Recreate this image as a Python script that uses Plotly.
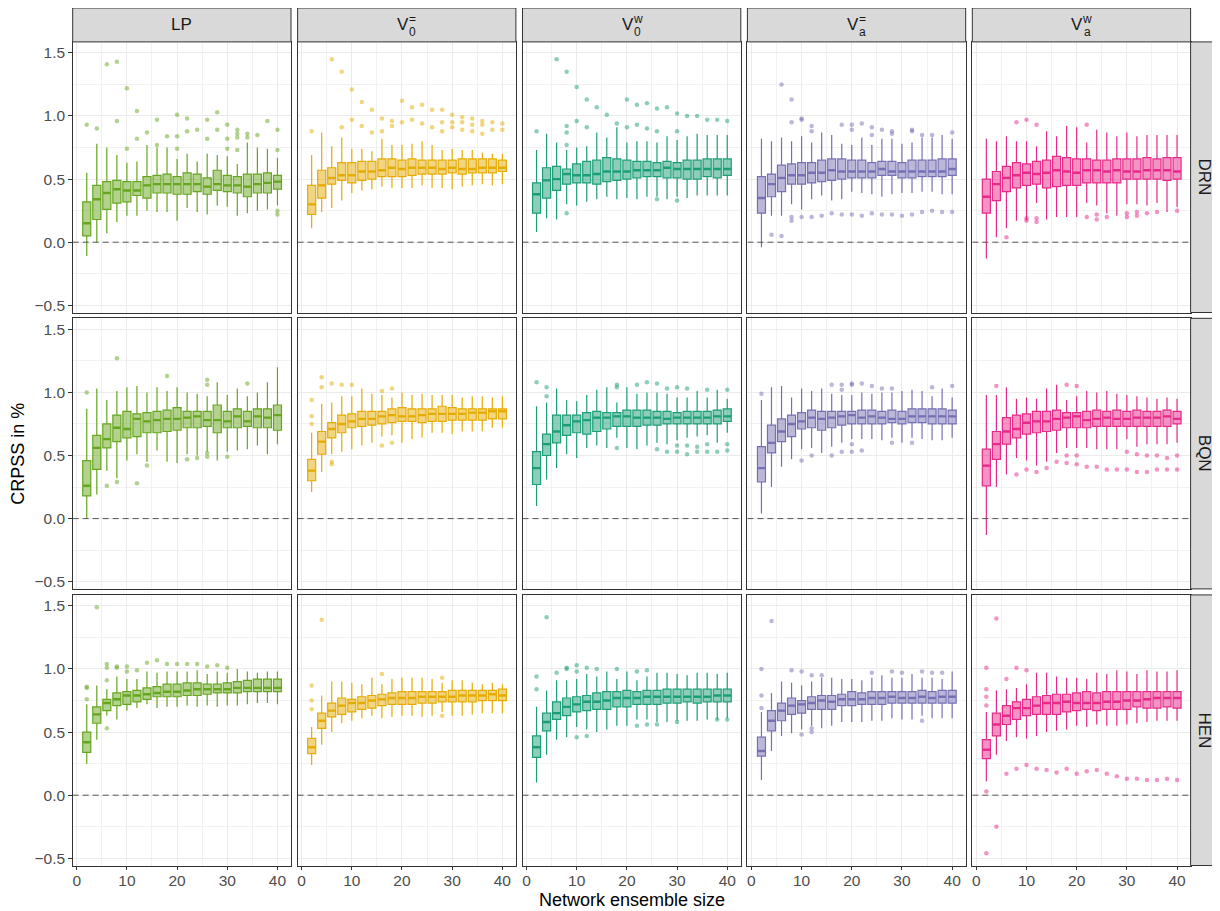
import plotly.graph_objects as go

# ---------------- data ----------------
SIZES = [2, 4, 6, 8, 10, 12, 14, 16, 18, 20, 22, 24, 26, 28, 30, 32, 34, 36, 38, 40]
ROW_NAMES = ["DRN", "BQN", "HEN"]
COL_KEYS = ["LP", "V0eq", "V0w", "Vaeq", "Vaw"]
STRIP_LABELS = [("LP", None, None), ("V", "0", "="), ("V", "0", "w"), ("V", "a", "="), ("V", "a", "w")]
COLORS = ["#66A61E", "#E6AB02", "#1B9E77", "#7570B3", "#E7298A"]
X_TICKS = [0, 10, 20, 30, 40]
Y_TICKS = [-0.5, 0.0, 0.5, 1.0, 1.5]
Y_TICKTEXT = ["\u22120.5", "0.0", "0.5", "1.0", "1.5"]
REF_LINE = 0.0

# ---- DRN ----
DRN_LP_lo = [-0.11, 0.00, 0.07, 0.16, 0.21, 0.21, 0.25, 0.24, 0.24, 0.17, 0.27, 0.24, 0.22, 0.29, 0.28, 0.21, 0.23, 0.25, 0.26, 0.29]
DRN_LP_q1 = [0.05, 0.18, 0.26, 0.31, 0.32, 0.37, 0.35, 0.39, 0.39, 0.38, 0.38, 0.40, 0.38, 0.41, 0.40, 0.39, 0.36, 0.39, 0.39, 0.42]
DRN_LP_med = [0.15, 0.34, 0.39, 0.42, 0.41, 0.41, 0.45, 0.46, 0.46, 0.46, 0.46, 0.46, 0.44, 0.46, 0.45, 0.45, 0.44, 0.46, 0.47, 0.48]
DRN_LP_q3 = [0.32, 0.45, 0.48, 0.49, 0.48, 0.48, 0.52, 0.53, 0.54, 0.52, 0.55, 0.54, 0.51, 0.57, 0.53, 0.52, 0.54, 0.54, 0.55, 0.53]
DRN_LP_hi = [0.55, 0.78, 0.75, 0.69, 0.63, 0.64, 0.77, 0.75, 0.75, 0.66, 0.70, 0.64, 0.70, 0.69, 0.68, 0.62, 0.79, 0.75, 0.74, 0.67]
DRN_LP_out = [(2, 0.93), (4, 0.90), (6, 1.41), (8, 1.43), (8, 0.96), (10, 1.22), (10, 0.74), (12, 1.04), (12, 0.82),
              (14, 0.87), (16, 0.97), (16, 0.77), (18, 0.84), (20, 1.01), (20, 0.84), (20, 0.74), (22, 0.98), (22, 0.88),
              (24, 0.89), (26, 0.97), (26, 0.82), (28, 1.03), (28, 0.89), (30, 0.93), (30, 0.82), (30, 0.74), (32, 0.89),
              (32, 0.86), (32, 0.83), (32, 0.73), (34, 0.86), (34, 0.83), (36, 0.85), (38, 0.96), (40, 0.89), (40, 0.73),
              (40, 0.25), (40, 0.22)]

DRN_V0eq_lo = [0.11, 0.24, 0.27, 0.33, 0.39, 0.41, 0.42, 0.44, 0.43, 0.43, 0.43, 0.45, 0.43, 0.43, 0.42, 0.44, 0.45, 0.46, 0.45, 0.46]
DRN_V0eq_q1 = [0.22, 0.35, 0.46, 0.49, 0.47, 0.49, 0.50, 0.52, 0.52, 0.52, 0.53, 0.54, 0.54, 0.54, 0.55, 0.54, 0.55, 0.55, 0.55, 0.56]
DRN_V0eq_med = [0.30, 0.45, 0.51, 0.53, 0.53, 0.56, 0.56, 0.57, 0.59, 0.58, 0.59, 0.59, 0.59, 0.58, 0.59, 0.58, 0.58, 0.59, 0.59, 0.59]
DRN_V0eq_q3 = [0.45, 0.57, 0.59, 0.63, 0.63, 0.64, 0.64, 0.66, 0.66, 0.65, 0.66, 0.65, 0.65, 0.65, 0.65, 0.66, 0.66, 0.66, 0.66, 0.65]
DRN_V0eq_hi = [0.69, 0.87, 0.76, 0.83, 0.74, 0.74, 0.72, 0.82, 0.77, 0.77, 0.78, 0.80, 0.77, 0.73, 0.74, 0.73, 0.73, 0.71, 0.70, 0.70]
DRN_V0eq_out = [(2, 0.88), (6, 1.45), (8, 1.35), (8, 0.91), (10, 1.21), (10, 0.97), (12, 1.11), (12, 0.92), (14, 1.05),
                (14, 0.87), (16, 0.98), (16, 0.88), (18, 0.96), (18, 0.92), (20, 1.12), (20, 0.95), (22, 1.07), (22, 0.97),
                (24, 1.09), (24, 0.94), (26, 1.05), (26, 0.91), (28, 1.05), (28, 0.95), (28, 0.88), (30, 1.01), (30, 0.95),
                (30, 0.91), (32, 0.99), (32, 0.95), (32, 0.89), (34, 0.98), (34, 0.93), (34, 0.88), (36, 0.96), (36, 0.93),
                (36, 0.86), (38, 0.95), (38, 0.89), (40, 0.94), (40, 0.89)]

DRN_V0w_lo = [0.08, 0.19, 0.18, 0.30, 0.29, 0.32, 0.34, 0.36, 0.34, 0.35, 0.34, 0.36, 0.36, 0.34, 0.36, 0.35, 0.37, 0.37, 0.37, 0.37]
DRN_V0w_q1 = [0.23, 0.35, 0.41, 0.46, 0.47, 0.47, 0.46, 0.48, 0.49, 0.50, 0.51, 0.52, 0.52, 0.51, 0.51, 0.50, 0.50, 0.52, 0.51, 0.53]
DRN_V0w_med = [0.38, 0.49, 0.50, 0.54, 0.53, 0.53, 0.54, 0.56, 0.56, 0.56, 0.57, 0.57, 0.57, 0.59, 0.58, 0.58, 0.58, 0.58, 0.58, 0.58]
DRN_V0w_q3 = [0.47, 0.59, 0.60, 0.58, 0.62, 0.64, 0.65, 0.67, 0.66, 0.65, 0.64, 0.64, 0.63, 0.64, 0.63, 0.65, 0.65, 0.66, 0.66, 0.66]
DRN_V0w_hi = [0.73, 0.86, 0.79, 0.73, 0.75, 0.76, 0.87, 0.83, 0.91, 0.79, 0.80, 0.80, 0.79, 0.84, 0.81, 0.84, 0.86, 0.85, 0.85, 0.85]
DRN_V0w_out = [(2, 0.88), (6, 1.45), (8, 1.35), (8, 0.92), (8, 0.87), (8, 0.77), (8, 0.23), (10, 1.23), (10, 0.96),
               (12, 1.13), (12, 0.91), (14, 1.07), (16, 1.01), (18, 0.94), (20, 1.13), (20, 0.91), (22, 1.09), (22, 0.93),
               (24, 1.10), (24, 0.90), (26, 1.06), (26, 0.88), (26, 0.34), (28, 1.07), (30, 1.02), (30, 0.88), (30, 0.33),
               (32, 1.00), (34, 1.00), (36, 0.97), (38, 0.97), (40, 0.96)]

DRN_Vaeq_lo = [-0.04, 0.21, 0.21, 0.30, 0.26, 0.34, 0.37, 0.33, 0.34, 0.40, 0.39, 0.38, 0.36, 0.38, 0.39, 0.39, 0.40, 0.40, 0.38, 0.38]
DRN_Vaeq_q1 = [0.23, 0.36, 0.40, 0.46, 0.46, 0.47, 0.48, 0.49, 0.50, 0.51, 0.51, 0.51, 0.53, 0.53, 0.51, 0.51, 0.52, 0.52, 0.52, 0.53]
DRN_Vaeq_med = [0.35, 0.46, 0.51, 0.53, 0.53, 0.55, 0.55, 0.57, 0.56, 0.56, 0.56, 0.56, 0.58, 0.56, 0.56, 0.56, 0.56, 0.56, 0.56, 0.58]
DRN_Vaeq_q3 = [0.52, 0.54, 0.61, 0.62, 0.63, 0.63, 0.65, 0.66, 0.66, 0.65, 0.65, 0.63, 0.64, 0.64, 0.63, 0.65, 0.65, 0.65, 0.66, 0.66]
DRN_Vaeq_hi = [0.82, 0.80, 0.83, 0.80, 0.84, 0.79, 0.87, 0.85, 0.78, 0.77, 0.83, 0.77, 0.82, 0.82, 0.78, 0.79, 0.83, 0.83, 0.85, 0.82]
DRN_Vaeq_out = [(4, 0.06), (6, 1.25), (6, 0.05), (8, 1.13), (8, 0.95), (8, 0.20), (8, 0.17), (10, 0.98), (10, 0.97),
                (10, 0.20), (12, 0.92), (12, 0.88), (12, 0.20), (14, 0.21), (16, 0.23), (18, 0.93), (18, 0.22), (20, 0.93),
                (20, 0.89), (20, 0.22), (22, 0.94), (22, 0.21), (24, 0.91), (24, 0.85), (24, 0.23), (26, 0.89), (26, 0.22),
                (28, 0.88), (28, 0.86), (28, 0.22), (30, 0.21), (32, 0.89), (32, 0.88), (32, 0.22), (34, 0.85), (34, 0.24),
                (36, 0.85), (36, 0.25), (38, 0.24), (40, 0.87), (40, 0.24)]

DRN_Vaw_lo = [-0.13, 0.04, 0.11, 0.17, 0.17, 0.31, 0.18, 0.20, 0.20, 0.20, 0.31, 0.29, 0.23, 0.21, 0.30, 0.30, 0.29, 0.31, 0.24, 0.28]
DRN_Vaw_q1 = [0.23, 0.33, 0.40, 0.43, 0.45, 0.46, 0.43, 0.44, 0.45, 0.45, 0.47, 0.47, 0.47, 0.47, 0.50, 0.50, 0.50, 0.50, 0.49, 0.50]
DRN_Vaw_med = [0.36, 0.46, 0.51, 0.53, 0.55, 0.54, 0.55, 0.57, 0.56, 0.55, 0.57, 0.57, 0.56, 0.57, 0.56, 0.56, 0.57, 0.57, 0.57, 0.56]
DRN_Vaw_q3 = [0.50, 0.56, 0.60, 0.63, 0.62, 0.64, 0.65, 0.68, 0.67, 0.66, 0.66, 0.65, 0.65, 0.66, 0.66, 0.66, 0.67, 0.66, 0.67, 0.67]
DRN_Vaw_hi = [0.82, 0.80, 0.84, 0.80, 0.80, 0.76, 0.88, 0.84, 0.92, 0.91, 0.79, 0.89, 0.87, 0.84, 0.87, 0.84, 0.85, 0.85, 0.85, 0.85]
DRN_Vaw_out = [(6, 0.04), (8, 0.95), (10, 0.97), (10, 0.19), (10, 0.17), (12, 0.93), (12, 0.19), (12, 0.16), (22, 0.93),
               (22, 0.20), (24, 0.22), (24, 0.18), (26, 0.20), (30, 0.23), (30, 0.20), (32, 0.24), (32, 0.21), (34, 0.23),
               (36, 0.24), (40, 0.25)]

# ---- BQN ----
BQN_LP_lo = [0.00, 0.19, 0.38, 0.32, 0.46, 0.51, 0.45, 0.54, 0.45, 0.44, 0.51, 0.50, 0.53, 0.46, 0.53, 0.54, 0.55, 0.58, 0.51, 0.59]
BQN_LP_q1 = [0.18, 0.39, 0.56, 0.61, 0.64, 0.65, 0.68, 0.68, 0.69, 0.70, 0.72, 0.72, 0.73, 0.68, 0.72, 0.72, 0.73, 0.72, 0.72, 0.70]
BQN_LP_med = [0.26, 0.56, 0.63, 0.72, 0.71, 0.79, 0.77, 0.78, 0.79, 0.79, 0.80, 0.81, 0.78, 0.78, 0.77, 0.81, 0.77, 0.81, 0.80, 0.82]
BQN_LP_q3 = [0.46, 0.66, 0.75, 0.82, 0.85, 0.83, 0.84, 0.85, 0.86, 0.88, 0.85, 0.85, 0.85, 0.90, 0.85, 0.87, 0.85, 0.87, 0.87, 0.90]
BQN_LP_hi = [0.87, 1.03, 0.94, 1.01, 1.04, 1.05, 1.00, 1.04, 1.01, 1.04, 1.00, 0.99, 0.97, 1.08, 0.98, 1.03, 0.97, 1.00, 1.08, 1.20]
BQN_LP_out = [(2, 1.00), (6, 0.26), (8, 1.27), (8, 0.29), (12, 0.28), (14, 0.42), (18, 1.13), (22, 0.47), (24, 0.48),
              (26, 1.10), (26, 1.06), (26, 0.52), (26, 0.49), (30, 0.49), (34, 1.07)]

BQN_V0eq_lo = [0.21, 0.37, 0.51, 0.53, 0.55, 0.58, 0.60, 0.65, 0.66, 0.60, 0.63, 0.64, 0.68, 0.68, 0.67, 0.69, 0.69, 0.69, 0.72, 0.72]
BQN_V0eq_q1 = [0.30, 0.51, 0.64, 0.68, 0.72, 0.73, 0.74, 0.75, 0.76, 0.77, 0.77, 0.76, 0.77, 0.77, 0.78, 0.78, 0.78, 0.78, 0.79, 0.79]
BQN_V0eq_med = [0.38, 0.61, 0.71, 0.75, 0.77, 0.79, 0.79, 0.81, 0.82, 0.81, 0.81, 0.82, 0.83, 0.83, 0.83, 0.83, 0.84, 0.84, 0.85, 0.85]
BQN_V0eq_q3 = [0.47, 0.69, 0.76, 0.82, 0.83, 0.85, 0.85, 0.85, 0.87, 0.88, 0.87, 0.87, 0.87, 0.89, 0.88, 0.87, 0.87, 0.87, 0.87, 0.87]
BQN_V0eq_hi = [0.68, 0.91, 0.92, 0.97, 0.97, 1.03, 0.99, 0.98, 0.96, 1.00, 0.98, 0.99, 0.98, 0.98, 0.98, 0.96, 0.97, 0.97, 0.96, 0.97]
BQN_V0eq_out = [(2, 0.94), (2, 0.81), (2, 0.75), (4, 1.12), (4, 1.04), (6, 1.07), (6, 0.45), (6, 0.43), (8, 1.06),
                (10, 1.06), (16, 1.01), (16, 0.58), (18, 1.03), (18, 0.60)]

BQN_V0w_lo = [0.10, 0.31, 0.40, 0.51, 0.48, 0.56, 0.58, 0.56, 0.64, 0.56, 0.55, 0.58, 0.60, 0.59, 0.62, 0.64, 0.65, 0.66, 0.60, 0.68]
BQN_V0w_q1 = [0.27, 0.50, 0.60, 0.66, 0.68, 0.67, 0.69, 0.71, 0.73, 0.73, 0.73, 0.74, 0.74, 0.75, 0.75, 0.75, 0.75, 0.75, 0.75, 0.77]
BQN_V0w_med = [0.40, 0.59, 0.69, 0.74, 0.77, 0.78, 0.80, 0.80, 0.81, 0.81, 0.80, 0.80, 0.80, 0.79, 0.80, 0.80, 0.80, 0.80, 0.81, 0.81]
BQN_V0w_q3 = [0.53, 0.67, 0.82, 0.82, 0.82, 0.84, 0.85, 0.84, 0.84, 0.86, 0.86, 0.86, 0.85, 0.85, 0.84, 0.85, 0.85, 0.85, 0.86, 0.87]
BQN_V0w_hi = [0.89, 0.92, 1.03, 0.94, 0.93, 0.98, 1.02, 1.04, 0.92, 1.04, 0.99, 1.00, 1.00, 0.99, 0.96, 0.96, 1.01, 0.96, 1.02, 0.95]
BQN_V0w_out = [(2, 1.08), (4, 1.04), (4, 0.97), (18, 1.06), (18, 1.04), (18, 0.56), (22, 1.06), (24, 1.08), (26, 1.07),
               (26, 0.55), (28, 1.03), (28, 0.53), (30, 1.04), (30, 0.58), (30, 0.53), (32, 1.03), (32, 0.58), (32, 0.51),
               (34, 0.57), (34, 0.53), (36, 1.02), (36, 0.59), (36, 0.53), (38, 0.53), (40, 1.02), (40, 0.59), (40, 0.54)]

BQN_Vaeq_lo = [0.04, 0.25, 0.41, 0.47, 0.55, 0.56, 0.52, 0.57, 0.60, 0.63, 0.63, 0.63, 0.62, 0.64, 0.60, 0.64, 0.63, 0.62, 0.62, 0.64]
BQN_Vaeq_q1 = [0.29, 0.52, 0.61, 0.65, 0.71, 0.72, 0.70, 0.72, 0.74, 0.75, 0.75, 0.75, 0.75, 0.76, 0.75, 0.76, 0.76, 0.75, 0.75, 0.75]
BQN_Vaeq_med = [0.40, 0.60, 0.69, 0.75, 0.77, 0.80, 0.79, 0.80, 0.81, 0.82, 0.80, 0.81, 0.80, 0.79, 0.79, 0.81, 0.81, 0.81, 0.81, 0.81]
BQN_Vaeq_q3 = [0.57, 0.74, 0.79, 0.82, 0.84, 0.86, 0.85, 0.85, 0.85, 0.85, 0.86, 0.86, 0.85, 0.86, 0.85, 0.87, 0.87, 0.87, 0.87, 0.86]
BQN_Vaeq_hi = [0.94, 1.04, 1.05, 0.96, 1.03, 1.01, 1.03, 0.99, 0.98, 0.98, 1.00, 0.99, 1.00, 1.00, 1.01, 1.02, 1.01, 0.97, 1.03, 0.96]
BQN_Vaeq_out = [(2, 0.99), (10, 0.46), (12, 0.50), (16, 1.06), (16, 0.50), (18, 1.06), (18, 1.02), (18, 0.53), (20, 1.07),
                (20, 1.06), (20, 0.59), (20, 0.53), (22, 1.07), (22, 0.54), (24, 1.05), (26, 1.03), (28, 1.03), (28, 0.60),
                (32, 0.60), (36, 1.04), (40, 1.05)]

BQN_Vaw_lo = [-0.13, 0.25, 0.35, 0.48, 0.46, 0.42, 0.45, 0.52, 0.56, 0.56, 0.56, 0.55, 0.55, 0.55, 0.63, 0.57, 0.59, 0.59, 0.59, 0.60]
BQN_Vaw_q1 = [0.26, 0.47, 0.59, 0.64, 0.67, 0.68, 0.69, 0.70, 0.72, 0.72, 0.72, 0.73, 0.73, 0.73, 0.73, 0.73, 0.73, 0.73, 0.73, 0.75]
BQN_Vaw_med = [0.42, 0.59, 0.69, 0.71, 0.76, 0.77, 0.77, 0.79, 0.80, 0.81, 0.78, 0.79, 0.80, 0.79, 0.79, 0.80, 0.80, 0.80, 0.81, 0.79]
BQN_Vaw_q3 = [0.55, 0.69, 0.80, 0.82, 0.83, 0.85, 0.85, 0.86, 0.84, 0.84, 0.85, 0.86, 0.85, 0.86, 0.85, 0.86, 0.85, 0.85, 0.86, 0.85]
BQN_Vaw_hi = [0.98, 0.98, 1.04, 0.95, 0.96, 0.95, 1.03, 1.06, 0.94, 0.97, 1.01, 1.00, 1.01, 0.99, 0.98, 0.97, 0.96, 0.95, 0.96, 0.95]
BQN_Vaw_out = [(4, 1.05), (8, 0.35), (10, 0.39), (12, 0.37), (14, 0.40), (16, 0.45), (18, 1.06), (18, 0.50), (18, 0.44),
               (20, 1.05), (20, 0.50), (20, 0.43), (22, 0.41), (24, 0.41), (26, 0.39), (28, 0.39), (30, 0.53), (30, 0.39),
               (32, 0.51), (32, 0.37), (34, 0.50), (34, 0.37), (36, 0.50), (36, 0.39), (38, 0.48), (38, 0.39), (40, 0.50),
               (40, 0.39)]

# ---- HEN ----
HEN_LP_lo = [0.25, 0.44, 0.63, 0.60, 0.67, 0.69, 0.72, 0.69, 0.70, 0.70, 0.71, 0.70, 0.71, 0.70, 0.71, 0.71, 0.72, 0.73, 0.73, 0.72]
HEN_LP_q1 = [0.34, 0.57, 0.67, 0.71, 0.72, 0.74, 0.76, 0.78, 0.78, 0.78, 0.79, 0.79, 0.80, 0.81, 0.81, 0.81, 0.82, 0.82, 0.82, 0.82]
HEN_LP_med = [0.42, 0.64, 0.73, 0.76, 0.79, 0.79, 0.80, 0.81, 0.82, 0.82, 0.83, 0.84, 0.84, 0.84, 0.84, 0.85, 0.85, 0.85, 0.85, 0.85]
HEN_LP_q3 = [0.50, 0.70, 0.76, 0.81, 0.82, 0.83, 0.85, 0.86, 0.88, 0.88, 0.89, 0.89, 0.88, 0.88, 0.89, 0.90, 0.91, 0.92, 0.92, 0.92]
HEN_LP_hi = [0.72, 0.87, 0.84, 0.94, 0.92, 0.92, 0.98, 0.97, 0.98, 0.98, 0.98, 0.99, 0.96, 0.98, 0.97, 1.00, 0.98, 0.97, 0.98, 0.98]
HEN_LP_out = [(2, 0.86), (2, 0.85), (2, 0.76), (4, 1.49), (6, 1.04), (6, 1.01), (6, 0.91), (6, 0.53), (8, 1.02),
              (8, 1.01), (10, 1.02), (10, 0.98), (12, 0.99), (14, 1.05), (16, 1.07), (18, 1.04), (20, 1.04), (22, 1.04),
              (24, 1.04), (26, 1.02), (28, 1.03), (30, 1.01)]

HEN_V0eq_lo = [0.24, 0.40, 0.50, 0.57, 0.59, 0.61, 0.63, 0.61, 0.62, 0.63, 0.63, 0.62, 0.63, 0.66, 0.63, 0.63, 0.64, 0.65, 0.65, 0.65]
HEN_V0eq_q1 = [0.33, 0.53, 0.62, 0.64, 0.66, 0.68, 0.69, 0.71, 0.72, 0.72, 0.72, 0.73, 0.73, 0.74, 0.74, 0.74, 0.74, 0.75, 0.75, 0.75]
HEN_V0eq_med = [0.38, 0.59, 0.67, 0.71, 0.73, 0.73, 0.75, 0.76, 0.77, 0.77, 0.77, 0.78, 0.78, 0.78, 0.78, 0.79, 0.79, 0.79, 0.80, 0.79]
HEN_V0eq_q3 = [0.45, 0.65, 0.73, 0.77, 0.76, 0.78, 0.79, 0.80, 0.81, 0.82, 0.82, 0.82, 0.82, 0.82, 0.83, 0.83, 0.83, 0.83, 0.83, 0.84]
HEN_V0eq_hi = [0.54, 0.79, 0.90, 0.90, 0.89, 0.88, 0.93, 0.88, 0.92, 0.93, 0.93, 0.93, 0.92, 0.89, 0.91, 0.91, 0.89, 0.88, 0.89, 0.88]
HEN_V0eq_out = [(2, 0.87), (2, 0.75), (2, 0.68), (4, 1.39), (16, 0.96), (28, 0.93), (28, 0.63)]

HEN_V0w_lo = [0.10, 0.32, 0.44, 0.46, 0.54, 0.52, 0.50, 0.52, 0.55, 0.55, 0.60, 0.60, 0.58, 0.58, 0.59, 0.59, 0.59, 0.60, 0.60, 0.61]
HEN_V0w_q1 = [0.30, 0.51, 0.60, 0.63, 0.66, 0.67, 0.68, 0.68, 0.70, 0.70, 0.72, 0.72, 0.72, 0.73, 0.73, 0.74, 0.73, 0.74, 0.74, 0.74]
HEN_V0w_med = [0.38, 0.58, 0.65, 0.70, 0.72, 0.74, 0.74, 0.75, 0.77, 0.77, 0.77, 0.78, 0.78, 0.78, 0.78, 0.78, 0.78, 0.78, 0.79, 0.79]
HEN_V0w_q3 = [0.47, 0.65, 0.74, 0.77, 0.78, 0.79, 0.81, 0.82, 0.82, 0.83, 0.82, 0.83, 0.83, 0.84, 0.84, 0.84, 0.84, 0.84, 0.84, 0.84]
HEN_V0w_hi = [0.70, 0.83, 0.91, 0.91, 0.92, 0.96, 0.94, 0.98, 0.92, 0.98, 0.91, 0.94, 0.97, 0.97, 0.96, 0.95, 0.97, 0.97, 0.96, 0.97]
HEN_V0w_out = [(2, 0.94), (2, 0.84), (4, 1.41), (6, 0.97), (8, 1.01), (8, 1.00), (10, 1.03), (10, 0.98), (10, 0.46),
               (12, 1.01), (12, 0.47), (14, 1.00), (18, 1.00), (22, 0.98), (22, 0.55), (24, 0.99), (24, 0.56), (26, 0.56),
               (30, 0.58), (38, 0.60), (40, 0.60)]

HEN_Vaeq_lo = [0.12, 0.35, 0.47, 0.49, 0.52, 0.55, 0.53, 0.55, 0.58, 0.58, 0.58, 0.59, 0.59, 0.61, 0.60, 0.60, 0.63, 0.61, 0.61, 0.61]
HEN_Vaeq_q1 = [0.31, 0.51, 0.59, 0.64, 0.65, 0.68, 0.68, 0.68, 0.71, 0.71, 0.72, 0.72, 0.72, 0.73, 0.73, 0.73, 0.73, 0.73, 0.73, 0.73]
HEN_Vaeq_med = [0.35, 0.59, 0.67, 0.71, 0.72, 0.73, 0.75, 0.74, 0.76, 0.76, 0.76, 0.77, 0.77, 0.78, 0.77, 0.77, 0.78, 0.77, 0.78, 0.78]
HEN_Vaeq_q3 = [0.46, 0.67, 0.73, 0.77, 0.75, 0.78, 0.79, 0.79, 0.80, 0.82, 0.81, 0.82, 0.82, 0.82, 0.82, 0.82, 0.83, 0.82, 0.83, 0.83]
HEN_Vaeq_hi = [0.66, 0.81, 0.90, 0.89, 0.87, 0.90, 0.93, 0.93, 0.92, 0.92, 0.91, 0.93, 0.95, 0.93, 0.93, 0.96, 0.93, 0.93, 0.92, 0.98]
HEN_Vaeq_out = [(2, 1.00), (2, 0.79), (2, 0.69), (4, 1.38), (8, 0.99), (10, 0.98), (10, 0.48), (12, 0.95), (12, 0.53),
                (12, 0.50), (14, 0.95), (24, 0.97), (28, 0.98), (30, 0.97), (34, 0.98), (34, 0.59), (36, 0.97), (38, 0.97)]

HEN_Vaw_lo = [0.11, 0.32, 0.43, 0.46, 0.45, 0.47, 0.50, 0.51, 0.52, 0.55, 0.54, 0.56, 0.55, 0.55, 0.56, 0.57, 0.58, 0.59, 0.59, 0.59]
HEN_Vaw_q1 = [0.29, 0.47, 0.56, 0.60, 0.63, 0.64, 0.64, 0.64, 0.66, 0.67, 0.68, 0.67, 0.68, 0.68, 0.68, 0.70, 0.69, 0.69, 0.70, 0.69]
HEN_Vaw_med = [0.36, 0.56, 0.63, 0.69, 0.69, 0.71, 0.73, 0.73, 0.74, 0.73, 0.73, 0.73, 0.74, 0.74, 0.75, 0.75, 0.76, 0.77, 0.77, 0.77]
HEN_Vaw_q3 = [0.44, 0.65, 0.71, 0.74, 0.76, 0.78, 0.79, 0.80, 0.80, 0.81, 0.82, 0.81, 0.82, 0.82, 0.82, 0.82, 0.82, 0.82, 0.82, 0.82]
HEN_Vaw_hi = [0.66, 0.83, 0.84, 0.85, 0.88, 0.97, 0.97, 0.94, 0.93, 0.93, 0.92, 0.97, 0.96, 0.99, 0.98, 0.96, 0.99, 0.98, 0.98, 0.99]
HEN_Vaw_out = [(2, 1.01), (2, 0.84), (2, 0.78), (2, 0.71), (2, 0.03), (2, -0.46), (4, 1.40), (4, -0.25), (6, 0.92),
               (6, 0.17), (8, 1.01), (8, 0.21), (10, 0.99), (10, 0.24), (12, 0.21), (14, 0.20), (16, 0.18), (18, 0.21),
               (20, 0.17), (22, 0.19), (24, 0.20), (26, 0.17), (28, 0.15), (30, 0.13), (32, 0.13), (34, 0.12), (36, 0.12),
               (38, 0.13), (40, 0.12)]

PANELS = {
    ("DRN", "LP"): (DRN_LP_lo, DRN_LP_q1, DRN_LP_med, DRN_LP_q3, DRN_LP_hi, DRN_LP_out),
    ("DRN", "V0eq"): (DRN_V0eq_lo, DRN_V0eq_q1, DRN_V0eq_med, DRN_V0eq_q3, DRN_V0eq_hi, DRN_V0eq_out),
    ("DRN", "V0w"): (DRN_V0w_lo, DRN_V0w_q1, DRN_V0w_med, DRN_V0w_q3, DRN_V0w_hi, DRN_V0w_out),
    ("DRN", "Vaeq"): (DRN_Vaeq_lo, DRN_Vaeq_q1, DRN_Vaeq_med, DRN_Vaeq_q3, DRN_Vaeq_hi, DRN_Vaeq_out),
    ("DRN", "Vaw"): (DRN_Vaw_lo, DRN_Vaw_q1, DRN_Vaw_med, DRN_Vaw_q3, DRN_Vaw_hi, DRN_Vaw_out),
    ("BQN", "LP"): (BQN_LP_lo, BQN_LP_q1, BQN_LP_med, BQN_LP_q3, BQN_LP_hi, BQN_LP_out),
    ("BQN", "V0eq"): (BQN_V0eq_lo, BQN_V0eq_q1, BQN_V0eq_med, BQN_V0eq_q3, BQN_V0eq_hi, BQN_V0eq_out),
    ("BQN", "V0w"): (BQN_V0w_lo, BQN_V0w_q1, BQN_V0w_med, BQN_V0w_q3, BQN_V0w_hi, BQN_V0w_out),
    ("BQN", "Vaeq"): (BQN_Vaeq_lo, BQN_Vaeq_q1, BQN_Vaeq_med, BQN_Vaeq_q3, BQN_Vaeq_hi, BQN_Vaeq_out),
    ("BQN", "Vaw"): (BQN_Vaw_lo, BQN_Vaw_q1, BQN_Vaw_med, BQN_Vaw_q3, BQN_Vaw_hi, BQN_Vaw_out),
    ("HEN", "LP"): (HEN_LP_lo, HEN_LP_q1, HEN_LP_med, HEN_LP_q3, HEN_LP_hi, HEN_LP_out),
    ("HEN", "V0eq"): (HEN_V0eq_lo, HEN_V0eq_q1, HEN_V0eq_med, HEN_V0eq_q3, HEN_V0eq_hi, HEN_V0eq_out),
    ("HEN", "V0w"): (HEN_V0w_lo, HEN_V0w_q1, HEN_V0w_med, HEN_V0w_q3, HEN_V0w_hi, HEN_V0w_out),
    ("HEN", "Vaeq"): (HEN_Vaeq_lo, HEN_Vaeq_q1, HEN_Vaeq_med, HEN_Vaeq_q3, HEN_Vaeq_hi, HEN_Vaeq_out),
    ("HEN", "Vaw"): (HEN_Vaw_lo, HEN_Vaw_q1, HEN_Vaw_med, HEN_Vaw_q3, HEN_Vaw_hi, HEN_Vaw_out),
}

# ---------------- layout / style ----------------
PAGE_OFF = 8.0            # default body margin of the html page
W, H = 1212, 903          # figure size (page is 1220x911)
COL_X0 = [72.7, 297.6, 522.5, 747.4, 972.3]   # page pixel positions
PW = 218.3
ROW_Y0 = [41.9, 318.3, 594.9]
PH = 270.6
STRIP_TOP = 8.0
RSTRIP_X1 = 1219.0
X_RANGE = [-0.8, 42.7]
Y_RANGE = [-0.557, 1.587]
BOX_W = 1.6
FONT = "Liberation Sans, Arial, Helvetica, sans-serif"
GRID = "#EBEBEB"
BORDER = "#333333"
TICKFONT = dict(family=FONT, size=15.5, color="#4D4D4D")


def px(xp):
    return (xp - PAGE_OFF) / W


def py(yp):
    return 1 - (yp - PAGE_OFF) / H


def rgba(hex_color, a):
    h = hex_color.lstrip("#")
    r, g, b = int(h[0:2], 16), int(h[2:4], 16), int(h[4:6], 16)
    return f"rgba({r},{g},{b},{a})"


fig = go.Figure()
layout = dict(
    width=W, height=H, autosize=False, template="none",
    margin=dict(l=0, r=0, t=0, b=0, pad=0),
    paper_bgcolor="white", plot_bgcolor="white", showlegend=False,
    boxmode="overlay",
)
shapes = []
annotations = []

for r, rname in enumerate(ROW_NAMES):
    for c, ckey in enumerate(COL_KEYS):
        k = r * 5 + c + 1
        xs = "" if k == 1 else str(k)
        xref, yref = "x" + xs, "y" + xs
        col = COLORS[c]
        lo, q1, med, q3, hi, out = PANELS[(rname, ckey)]

        # dashed reference line at 0 (drawn first, beneath the boxes)
        fig.add_trace(go.Scatter(x=X_RANGE, y=[REF_LINE, REF_LINE], mode="lines",
                                 line=dict(color="#555555", width=1, dash="6px,4px"),
                                 xaxis=xref, yaxis=yref, hoverinfo="skip", cliponaxis=True))
        fig.add_trace(go.Box(
            x=SIZES, q1=q1, median=med, q3=q3, lowerfence=lo, upperfence=hi,
            width=BOX_W, whiskerwidth=0, boxpoints=False,
            fillcolor=rgba(col, 0.5), line=dict(color=col, width=1.2),
            xaxis=xref, yaxis=yref, hoverinfo="skip",
        ))
        # thicker median segments (ggplot style)
        mx, my = [], []
        for xv, mv in zip(SIZES, med):
            mx += [xv - BOX_W / 2 + 0.1, xv + BOX_W / 2 - 0.1, None]
            my += [mv, mv, None]
        fig.add_trace(go.Scatter(x=mx, y=my, mode="lines", line=dict(color=col, width=2.4),
                                 xaxis=xref, yaxis=yref, hoverinfo="skip"))
        fig.add_trace(go.Scatter(
            x=[p[0] for p in out], y=[p[1] for p in out], mode="markers",
            marker=dict(color=rgba(col, 0.5), size=4.5, line=dict(width=0)),
            xaxis=xref, yaxis=yref, hoverinfo="skip",
        ))

        x0 = px(COL_X0[c])
        x1 = px(COL_X0[c] + PW)
        y1 = py(ROW_Y0[r])
        y0 = py(ROW_Y0[r] + PH)
        bottom = r == len(ROW_NAMES) - 1
        left = c == 0
        layout["xaxis" + xs] = dict(
            domain=[x0, x1], anchor=yref, range=X_RANGE, tickvals=X_TICKS,
            showgrid=True, gridcolor=GRID, gridwidth=1.1,
            minor=dict(tickvals=[5, 15, 25, 35], showgrid=True, gridcolor="#F1F1F1", gridwidth=0.8),
            showline=True, mirror=True, linecolor=BORDER, linewidth=1,
            zeroline=False, showticklabels=bottom, ticklabelstandoff=-3,
            ticks="outside" if bottom else "", ticklen=3.5, tickwidth=1, tickcolor=BORDER,
            tickfont=TICKFONT, fixedrange=True,
        )
        layout["yaxis" + xs] = dict(
            domain=[y0, y1], anchor=xref, range=Y_RANGE, tickvals=Y_TICKS, ticktext=Y_TICKTEXT,
            showgrid=True, gridcolor=GRID, gridwidth=1.1,
            minor=dict(tickvals=[-0.25, 0.25, 0.75, 1.25], showgrid=True, gridcolor="#F1F1F1", gridwidth=0.8),
            showline=True, mirror=True, linecolor=BORDER, linewidth=1,
            zeroline=False, showticklabels=left,
            ticks="outside" if left else "", ticklen=3.5, tickwidth=1, tickcolor=BORDER,
            tickfont=TICKFONT, fixedrange=True,
        )

STRIP_FONT = dict(family=FONT, size=17, color="#1A1A1A")
SMALL_FONT = dict(family=FONT, size=12, color="#1A1A1A")

# column strips
for c, (base, sub, sup) in enumerate(STRIP_LABELS):
    x0 = px(COL_X0[c])
    x1 = px(COL_X0[c] + PW)
    sy0 = py(ROW_Y0[0])
    sy1 = py(STRIP_TOP)
    shapes.append(dict(type="rect", xref="paper", yref="paper", x0=x0, x1=x1, y0=sy0, y1=sy1,
                       fillcolor="#D9D9D9", line=dict(color=BORDER, width=1), layer="above"))
    cx = (x0 + x1) / 2
    cy = (sy0 + sy1) / 2
    common = dict(x=cx, y=cy, xref="paper", yref="paper", showarrow=False, xanchor="center", yanchor="middle")
    if sub is None:
        annotations.append(dict(text=base, font=STRIP_FONT, **common))
    else:
        annotations.append(dict(text=base, xshift=-4, font=STRIP_FONT, **common))
        annotations.append(dict(text=sup, xshift=6, yshift=6, font=SMALL_FONT, **common))
        annotations.append(dict(text=sub, xshift=6, yshift=-7, font=SMALL_FONT, **common))

# row strips
for r, rname in enumerate(ROW_NAMES):
    x0 = px(COL_X0[-1] + PW)
    x1 = min(1.0, px(RSTRIP_X1))
    y1 = py(ROW_Y0[r])
    y0 = py(ROW_Y0[r] + PH)
    shapes.append(dict(type="rect", xref="paper", yref="paper", x0=x0, x1=x1, y0=y0, y1=y1,
                       fillcolor="#D9D9D9", line=dict(color=BORDER, width=1), layer="above"))
    annotations.append(dict(x=(x0 + x1) / 2, y=(y0 + y1) / 2, xref="paper", yref="paper", text=rname,
                            showarrow=False, textangle=90, xanchor="center", yanchor="middle", font=STRIP_FONT))

# axis titles
annotations.append(dict(x=px(18), y=py((ROW_Y0[0] + ROW_Y0[-1] + PH) / 2), xref="paper", yref="paper",
                        text="CRPSS in %", showarrow=False, textangle=-90, xanchor="center", yanchor="middle",
                        font=dict(family=FONT, size=18, color="black")))
annotations.append(dict(x=px((COL_X0[0] + COL_X0[-1] + PW) / 2), y=py(911), xref="paper", yref="paper",
                        text="Network ensemble size", showarrow=False, xanchor="center", yanchor="bottom",
                        borderpad=0, font=dict(family=FONT, size=18, color="black")))

layout["shapes"] = shapes
layout["annotations"] = annotations
fig.update_layout(**layout)
fig.write_html("out.html")
